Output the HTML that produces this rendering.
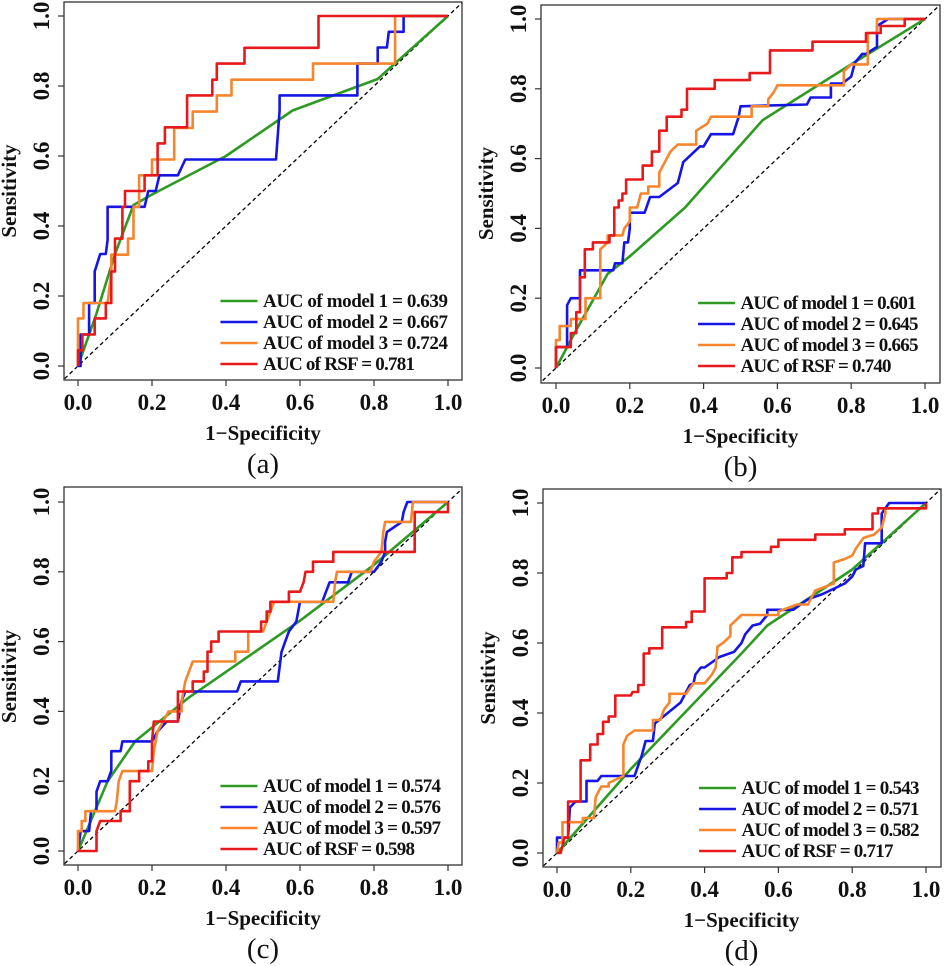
<!DOCTYPE html>
<html><head><meta charset="utf-8"><style>
html,body{margin:0;padding:0;background:#fff;width:945px;height:966px;overflow:hidden}
svg{display:block;font-family:"Liberation Serif","Times New Roman",serif}
text{font-family:"Liberation Serif","Times New Roman",serif}
</style></head><body>
<svg id="fig" width="945" height="966" font-family="Liberation Serif, serif"></svg>
<script>
// ---- data (x = 1-specificity, y = sensitivity) ----
const seriesNames = ["AUC of model 1","AUC of model 2","AUC of model 3","AUC of RSF"];
const aucA = ["0.639","0.667","0.724","0.781"];
const aucB = ["0.601","0.645","0.665","0.740"];
const aucC = ["0.574","0.576","0.597","0.598"];
const aucD = ["0.543","0.571","0.582","0.717"];
const tickVals = [0,0.2,0.4,0.6,0.8,1.0];
const tickLabels = ["0.0","0.2","0.4","0.6","0.8","1.0"];

const a1 = [[0,0],[0.05,0.15],[0.1,0.32],[0.15,0.46],[0.2,0.49],[0.4,0.6],[0.58,0.73],[0.81,0.82],[1,1]];
const a2 = [[0,0],[0.007,0],[0.007,0.09],[0.03,0.09],[0.03,0.18],[0.045,0.18],[0.045,0.27],[0.06,0.32],[0.075,0.32],[0.08,0.36],[0.08,0.455],[0.18,0.455],[0.19,0.5],[0.21,0.5],[0.22,0.545],[0.27,0.545],[0.29,0.59],[0.535,0.59],[0.545,0.73],[0.545,0.773],[0.755,0.773],[0.755,0.864],[0.81,0.864],[0.81,0.91],[0.835,0.91],[0.84,0.955],[0.88,0.955],[0.88,1],[1,1]];
const a3 = [[0,0],[0,0.136],[0.015,0.136],[0.015,0.18],[0.08,0.18],[0.09,0.27],[0.09,0.318],[0.135,0.318],[0.135,0.364],[0.15,0.364],[0.15,0.455],[0.165,0.455],[0.165,0.545],[0.2,0.545],[0.2,0.59],[0.26,0.59],[0.26,0.68],[0.31,0.68],[0.31,0.727],[0.375,0.727],[0.375,0.773],[0.415,0.773],[0.415,0.818],[0.635,0.818],[0.635,0.864],[0.857,0.864],[0.857,1],[1,1]];
const a4 = [[0,0],[0,0.045],[0.012,0.045],[0.012,0.09],[0.045,0.09],[0.045,0.136],[0.075,0.136],[0.075,0.18],[0.09,0.18],[0.09,0.27],[0.1,0.27],[0.1,0.364],[0.12,0.364],[0.12,0.455],[0.127,0.455],[0.127,0.5],[0.18,0.5],[0.18,0.545],[0.215,0.545],[0.215,0.636],[0.235,0.636],[0.235,0.682],[0.295,0.682],[0.295,0.773],[0.363,0.773],[0.363,0.818],[0.375,0.818],[0.375,0.864],[0.45,0.864],[0.45,0.909],[0.65,0.909],[0.65,1],[1,1]];

const b1 = [[0,0],[0.05,0.1],[0.14,0.27],[0.2,0.32],[0.35,0.46],[0.56,0.71],[0.8,0.87],[1,1]];
const b2 = [[0,0],[0,0.06],[0.03,0.06],[0.03,0.18],[0.04,0.2],[0.065,0.2],[0.065,0.28],[0.155,0.28],[0.16,0.3],[0.18,0.3],[0.185,0.36],[0.195,0.36],[0.2,0.4],[0.2,0.445],[0.24,0.445],[0.255,0.49],[0.28,0.49],[0.33,0.53],[0.345,0.59],[0.39,0.635],[0.4,0.635],[0.42,0.67],[0.48,0.67],[0.495,0.72],[0.5,0.75],[0.68,0.755],[0.69,0.775],[0.745,0.775],[0.745,0.815],[0.775,0.815],[0.8,0.835],[0.81,0.875],[0.83,0.9],[0.84,0.9],[0.87,0.92],[0.87,0.98],[0.9,1],[1,1]];
const b3 = [[0,0],[0,0.08],[0.01,0.08],[0.01,0.12],[0.04,0.12],[0.04,0.14],[0.08,0.14],[0.08,0.2],[0.12,0.2],[0.12,0.34],[0.14,0.36],[0.14,0.38],[0.18,0.38],[0.185,0.4],[0.2,0.42],[0.2,0.46],[0.22,0.46],[0.23,0.5],[0.25,0.5],[0.25,0.52],[0.28,0.52],[0.28,0.56],[0.3,0.6],[0.31,0.62],[0.33,0.64],[0.38,0.64],[0.38,0.68],[0.41,0.7],[0.42,0.72],[0.53,0.72],[0.53,0.75],[0.575,0.75],[0.575,0.77],[0.59,0.79],[0.6,0.81],[0.78,0.81],[0.78,0.85],[0.8,0.87],[0.845,0.87],[0.845,0.96],[0.87,0.96],[0.87,1],[1,1]];
const b4 = [[0,0],[0,0.06],[0.04,0.06],[0.04,0.1],[0.055,0.1],[0.055,0.16],[0.065,0.16],[0.065,0.26],[0.078,0.26],[0.078,0.34],[0.1,0.34],[0.1,0.36],[0.145,0.36],[0.145,0.38],[0.158,0.38],[0.158,0.46],[0.17,0.46],[0.17,0.48],[0.18,0.48],[0.18,0.5],[0.19,0.5],[0.19,0.54],[0.235,0.54],[0.235,0.58],[0.26,0.58],[0.26,0.62],[0.28,0.62],[0.28,0.68],[0.3,0.68],[0.3,0.72],[0.34,0.72],[0.34,0.74],[0.355,0.74],[0.355,0.8],[0.43,0.8],[0.43,0.825],[0.525,0.825],[0.525,0.845],[0.58,0.845],[0.58,0.91],[0.695,0.91],[0.695,0.935],[0.84,0.935],[0.84,0.96],[0.88,0.96],[0.88,0.98],[0.945,0.98],[0.945,1],[1,1]];

const c1 = [[0,0],[0.08,0.2],[0.155,0.315],[0.3,0.44],[0.6,0.66],[0.8,0.82],[1,1]];
const c2 = [[0,0],[0.007,0.057],[0.03,0.057],[0.035,0.114],[0.05,0.114],[0.05,0.17],[0.06,0.2],[0.08,0.2],[0.09,0.23],[0.09,0.286],[0.115,0.286],[0.12,0.314],[0.2,0.314],[0.215,0.343],[0.24,0.371],[0.27,0.371],[0.28,0.43],[0.29,0.457],[0.43,0.457],[0.44,0.486],[0.54,0.486],[0.55,0.57],[0.56,0.6],[0.57,0.629],[0.59,0.657],[0.6,0.714],[0.66,0.714],[0.68,0.77],[0.73,0.77],[0.74,0.8],[0.8,0.8],[0.82,0.829],[0.83,0.857],[0.83,0.886],[0.835,0.914],[0.875,0.943],[0.88,0.971],[0.89,1],[1,1]];
const c3 = [[0,0],[0,0.057],[0.01,0.057],[0.01,0.086],[0.02,0.086],[0.02,0.114],[0.1,0.114],[0.105,0.143],[0.11,0.2],[0.12,0.229],[0.2,0.229],[0.205,0.286],[0.215,0.343],[0.23,0.371],[0.245,0.4],[0.28,0.4],[0.28,0.429],[0.29,0.486],[0.3,0.514],[0.31,0.543],[0.425,0.543],[0.425,0.571],[0.46,0.571],[0.46,0.629],[0.5,0.629],[0.51,0.657],[0.52,0.686],[0.53,0.714],[0.69,0.714],[0.695,0.771],[0.7,0.8],[0.79,0.8],[0.8,0.829],[0.82,0.857],[0.825,0.914],[0.83,0.943],[0.9,0.943],[0.905,1],[1,1]];
const c4 = [[0,0],[0.05,0],[0.05,0.057],[0.06,0.086],[0.115,0.086],[0.115,0.114],[0.14,0.114],[0.14,0.2],[0.165,0.2],[0.165,0.229],[0.19,0.229],[0.19,0.257],[0.2,0.257],[0.2,0.314],[0.205,0.371],[0.27,0.371],[0.27,0.457],[0.31,0.457],[0.31,0.486],[0.34,0.486],[0.34,0.514],[0.35,0.514],[0.35,0.571],[0.36,0.571],[0.36,0.6],[0.38,0.6],[0.38,0.629],[0.495,0.629],[0.495,0.657],[0.51,0.657],[0.51,0.686],[0.52,0.686],[0.52,0.714],[0.57,0.714],[0.57,0.743],[0.6,0.743],[0.61,0.771],[0.615,0.8],[0.635,0.8],[0.635,0.829],[0.69,0.829],[0.69,0.857],[0.91,0.857],[0.91,0.971],[1,0.971],[1,1]];

const d1 = [[0,0],[0.2,0.24],[0.5,0.57],[0.57,0.65],[0.7,0.74],[0.8,0.81],[1,1]];
const d2 = [[0,0],[0,0.044],[0.03,0.044],[0.035,0.13],[0.05,0.147],[0.08,0.147],[0.08,0.206],[0.11,0.206],[0.12,0.22],[0.21,0.22],[0.23,0.28],[0.24,0.32],[0.26,0.32],[0.265,0.37],[0.3,0.4],[0.335,0.43],[0.36,0.48],[0.37,0.485],[0.375,0.51],[0.39,0.53],[0.4,0.53],[0.44,0.56],[0.48,0.575],[0.5,0.6],[0.51,0.625],[0.53,0.65],[0.55,0.655],[0.57,0.68],[0.57,0.695],[0.64,0.695],[0.68,0.725],[0.72,0.74],[0.76,0.76],[0.78,0.77],[0.8,0.79],[0.81,0.81],[0.83,0.82],[0.835,0.885],[0.88,0.885],[0.88,0.97],[0.9,1],[1,1]];
const d3 = [[0,0],[0.005,0.03],[0.015,0.03],[0.015,0.088],[0.07,0.088],[0.07,0.1],[0.1,0.1],[0.105,0.16],[0.12,0.19],[0.14,0.19],[0.14,0.2],[0.18,0.22],[0.18,0.31],[0.19,0.335],[0.21,0.35],[0.26,0.35],[0.26,0.38],[0.28,0.38],[0.29,0.41],[0.305,0.43],[0.305,0.455],[0.35,0.455],[0.37,0.485],[0.4,0.485],[0.42,0.51],[0.43,0.53],[0.435,0.59],[0.45,0.6],[0.47,0.62],[0.47,0.65],[0.5,0.68],[0.6,0.68],[0.6,0.69],[0.65,0.71],[0.68,0.71],[0.7,0.75],[0.75,0.77],[0.75,0.83],[0.78,0.84],[0.8,0.85],[0.81,0.87],[0.83,0.9],[0.86,0.91],[0.88,0.93],[0.89,0.97],[0.89,0.985],[1,0.985],[1,1]];
const d4 = [[0,0],[0.01,0],[0.02,0.044],[0.03,0.044],[0.03,0.147],[0.064,0.147],[0.064,0.265],[0.09,0.265],[0.09,0.31],[0.11,0.31],[0.11,0.34],[0.125,0.34],[0.125,0.375],[0.14,0.375],[0.14,0.39],[0.158,0.39],[0.158,0.45],[0.2,0.45],[0.205,0.46],[0.22,0.46],[0.22,0.48],[0.235,0.48],[0.235,0.57],[0.25,0.57],[0.25,0.585],[0.285,0.585],[0.285,0.645],[0.35,0.645],[0.35,0.66],[0.365,0.66],[0.365,0.69],[0.4,0.69],[0.4,0.785],[0.46,0.785],[0.46,0.8],[0.475,0.8],[0.475,0.845],[0.5,0.845],[0.5,0.86],[0.58,0.86],[0.58,0.875],[0.6,0.875],[0.6,0.895],[0.7,0.895],[0.7,0.91],[0.78,0.91],[0.78,0.925],[0.855,0.925],[0.855,0.97],[0.87,0.97],[0.87,0.985],[1,0.985],[1,1]];

const colors = ["#2e9a24","#1515e6","#f5862e","#e8191b"];
const FF = '"Liberation Serif", "Times New Roman", serif';
const NS = "http://www.w3.org/2000/svg";
const svg = document.getElementById('fig');
function mk(tag, attrs, parent){const e=document.createElementNS(NS,tag);for(const k in attrs)e.setAttribute(k,attrs[k]);if(tag==='text')e.style.fontFamily=FF;(parent||svg).appendChild(e);return e;}

const panels = [
 {id:'a',box:[64,2,462,380],x0:78,x1:448,y0:366,y1:16,data:[a1,a2,a3,a4],auc:aucA,lens:[185,185,185,152]},
 {id:'b',box:[541,5,940,383],x0:556,x1:925,y0:368,y1:19,data:[b1,b2,b3,b4],auc:aucB,lens:[176,178,178,151]},
 {id:'c',box:[64,487,462,865],x0:78,x1:448,y0:851,y1:502,data:[c1,c2,c3,c4],auc:aucC,lens:[178,178,178,152]},
 {id:'d',box:[543,489,941,867],x0:557,x1:926,y0:853,y1:503,data:[d1,d2,d3,d4],auc:aucD,lens:[178,178,178,152]}
];

panels.forEach(p=>{
  const g = mk('g',{});
  
  
  const sx = v=>p.x0+(p.x1-p.x0)*v;
  const sy = v=>p.y0+(p.y1-p.y0)*v;
  const [L,T,R,B]=p.box;
  const cid='clip'+p.id;
  const cp=mk('clipPath',{id:cid},g); mk('rect',{x:L,y:T,width:R-L,height:B-T},cp);
  const diag=mk('line',{x1:sx(-0.05),y1:sy(-0.05),x2:sx(1.05),y2:sy(1.05),stroke:'#000','stroke-width':1.3,'stroke-dasharray':'4,3','clip-path':`url(#${cid})`},g);
  
  
  p.data.forEach((pts,i)=>{
    const d=pts.map((q,j)=>(j?'L':'M')+sx(q[0]).toFixed(1)+','+sy(q[1]).toFixed(1)).join('');
    const path=mk('path',{d:d,fill:'none',stroke:colors[i],'stroke-width':2.6,'stroke-linejoin':'round'},g);
    
    
  });
  const box=mk('rect',{x:L,y:T,width:R-L,height:B-T,fill:'none',stroke:'#333','stroke-width':1.3},g);
  
  
  tickVals.forEach((v,i)=>{
    mk('line',{x1:sx(v),y1:B,x2:sx(v),y2:B+6,stroke:'#333','stroke-width':1.2},g);
    const t=mk('text',{x:sx(v),y:B+30,'text-anchor':'middle','font-size':23,'font-weight':'bold',fill:'#111'},g);
    t.textContent=tickLabels[i];
    
    
    mk('line',{x1:L,y1:sy(v),x2:L-6,y2:sy(v),stroke:'#333','stroke-width':1.2},g);
    const ty=mk('text',{x:0,y:0,transform:`translate(${L-15},${sy(v)}) rotate(-90)`,'text-anchor':'middle','font-size':23,'font-weight':'bold',fill:'#111'},g);
    ty.textContent=tickLabels[i];
    
    
  });
  const xl=mk('text',{x:(sx(0)+sx(1))/2,y:B+60,'text-anchor':'middle','font-size':21,'font-weight':'bold',fill:'#111'},g);
  xl.textContent='1\u2212Specificity';
  
  
  const yl=mk('text',{x:0,y:0,transform:`translate(${L-48},${(sy(0)+sy(1))/2}) rotate(-90)`,'text-anchor':'middle','font-size':21,'font-weight':'bold',fill:'#111'},g);
  yl.textContent='Sensitivity';
  
  
  const pl=mk('text',{x:(sx(0)+sx(1))/2,y:B+93,'text-anchor':'middle','font-size':29,fill:'#111'},g);
  pl.textContent='('+p.id+')';
  
  
  const rowOff=[-65,-44,-23,-2];
  seriesNames.forEach((n,i)=>{
    const y=p.y0+rowOff[i];
    const ll=mk('line',{x1:sx(0.385),y1:y,x2:sx(0.485),y2:y,stroke:colors[i],'stroke-width':2.6},g);
    
    
    const lt=mk('text',{x:sx(0.5),y:y+6,'font-size':19,'font-weight':'bold',fill:'#111',textLength:p.lens[i],lengthAdjust:'spacing'},g);
    lt.textContent=n+' = '+p.auc[i];
    
    
  });
});
</script>
</body></html>
